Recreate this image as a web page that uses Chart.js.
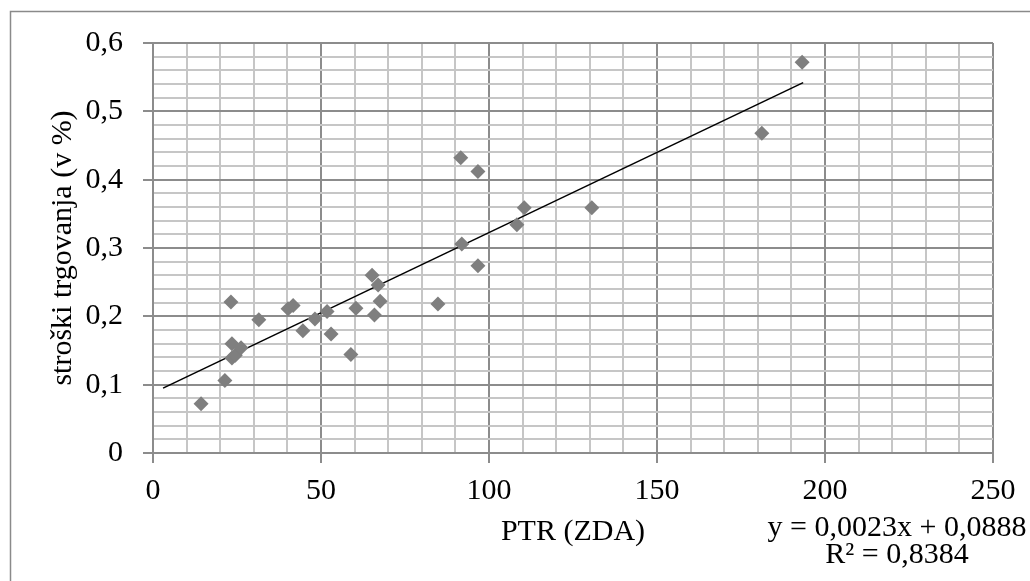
<!DOCTYPE html>
<html>
<head>
<meta charset="utf-8">
<script src="https://cdn.jsdelivr.net/npm/chart.js@4.4.1/dist/chart.umd.min.js"></script>
<style>
  body { margin: 0; background: #fff; }
  canvas { display: block; }
</style>
</head>
<body>
<canvas id="ptr-chart" width="1030" height="581"></canvas>
<script>
// values
const ptr = [14.3, 21.4, 23.2, 23.5, 23.5, 24.5, 26.2, 31.5, 40.2, 41.7, 44.6, 48.2, 51.8, 53.0, 58.9,
  60.4, 65.2, 65.9, 67.0, 67.6, 84.8, 91.6, 91.9, 96.7, 96.7, 108.3, 110.5, 130.6, 181.2, 193.2];
const costs = [0.072, 0.106, 0.221, 0.160, 0.139, 0.143, 0.154, 0.195, 0.211, 0.216, 0.179, 0.196, 0.207, 0.174, 0.144,
  0.212, 0.260, 0.202, 0.246, 0.222, 0.218, 0.432, 0.306, 0.412, 0.274, 0.334, 0.359, 0.359, 0.468, 0.572];
const trendX = [3, 193.5];
const trendY = [0.095, 0.542];
const equationLines = ["y = 0,0023x + 0,0888", "R² = 0,8384"];

const font = "'Liberation Serif', 'Times New Roman', serif";
const majorGrid = "#8c8c8c";
const minorGrid = "#c6c6c6";

function isMajor(v, step) {
  return Math.abs(v / step - Math.round(v / step)) < 1e-6;
}

// outer frame + regression label
const extras = {
  id: "extras",
  beforeDraw(chart) {
    const c = chart.ctx;
    c.save();
    c.fillStyle = "#fff";
    c.fillRect(0, 0, chart.width, chart.height);
    c.strokeStyle = "#8a8a8a";
    c.lineWidth = 1.5;
    c.strokeRect(10.5, 11.5, chart.width + 20, chart.height + 20);
    c.restore();
  },
  afterDraw(chart) {
    const c = chart.ctx;
    c.save();
    c.fillStyle = "#000";
    c.font = "30px " + font;
    c.textBaseline = "middle";
    c.textAlign = "center";
    c.fillText(equationLines[0], 897, 528);
    c.fillText(equationLines[1], 897, 555);
    c.restore();
  }
};

const ctx = document.getElementById("ptr-chart").getContext("2d");
new Chart(ctx, {
  type: "scatter",
  data: {
    datasets: [
      {
        label: "stroški",
        data: ptr.map((x, i) => ({ x: x, y: costs[i] })),
        pointStyle: "rectRot",
        pointRadius: 7.5,
        pointBackgroundColor: "#7f7f7f",
        pointBorderWidth: 0,
      },
      {
        label: "trend",
        type: "line",
        data: trendX.map((x, i) => ({ x: x, y: trendY[i] })),
        borderColor: "#000",
        borderWidth: 1.5,
        pointRadius: 0,
        fill: false,
      },
    ],
  },
  options: {
    responsive: false,
    animation: false,
    layout: { padding: { top: 43, right: 37, left: 0, bottom: 0 } },
    plugins: { legend: { display: false }, tooltip: { enabled: false } },
    scales: {
      x: {
        type: "linear",
        min: 0,
        max: 250,
        afterFit: (s) => { s.height = 128; },
        ticks: {
          stepSize: 10,
          autoSkip: false,
          maxRotation: 0,
          padding: 10,
          color: "#000",
          font: { family: font, size: 30 },
          callback: (v) => (isMajor(v, 50) ? String(v) : ""),
        },
        grid: {
          color: (c) => (isMajor(c.tick.value, 50) ? majorGrid : minorGrid),
          lineWidth: 2,
          tickLength: 10,
          tickColor: (c) => (isMajor(c.tick.value, 50) ? majorGrid : "rgba(0,0,0,0)"),
        },
        border: { color: majorGrid, width: 2 },
        title: {
          display: true,
          text: "PTR (ZDA)",
          color: "#000",
          font: { family: font, size: 30 },
          padding: { bottom: 31 },
        },
      },
      y: {
        min: 0,
        max: 0.6,
        afterFit: (s) => { s.width = 153; },
        ticks: {
          stepSize: 0.02,
          autoSkip: false,
          padding: 20,
          color: "#000",
          font: { family: font, size: 30 },
          callback: (v) => (isMajor(v, 0.1) ? (Math.round(v * 10) / 10).toString().replace(".", ",") : ""),
        },
        grid: {
          color: (c) => (isMajor(c.tick.value, 0.1) ? majorGrid : minorGrid),
          lineWidth: 2,
          tickLength: 10,
          tickColor: (c) => (isMajor(c.tick.value, 0.1) ? majorGrid : "rgba(0,0,0,0)"),
        },
        border: { color: majorGrid, width: 2 },
        title: {
          display: true,
          text: "stroški trgovanja (v %)",
          color: "#000",
          font: { family: font, size: 30 },
          padding: { top: 45 },
        },
      },
    },
  },
  plugins: [extras],
});
</script>
</body>
</html>
